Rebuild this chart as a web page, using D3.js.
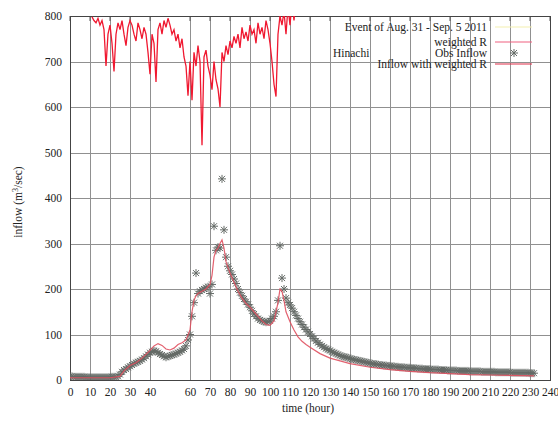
<!DOCTYPE html>
<html>
<head>
<meta charset="utf-8">
<script src="https://d3js.org/d3.v7.min.js"></script>
<style>
  body { margin: 0; background: #fff; }
  svg { display: block; }
  text { font-family: "Liberation Serif", "DejaVu Serif", serif; fill: #222; }
</style>
</head>
<body>
<svg id="chart" width="558" height="421"></svg>
<script>
// x ticks (50 is not labelled in the original)
var xTicks = [0,10,20,30,40,60,70,80,90,100,110,120,130,140,150,160,170,180,190,200,210,220,230,240];
var yTicks = [0,100,200,300,400,500,600,700,800];

// observed inflow, one value per hour from hour 0
var obsStart = 0;
var obsValues = [
  8,8,7,7,7,7,7,7,6,6, 6,6,6,6,6,6,6,6,6,6, 6,7,7,7,8,
  12,18,22,24,28,
  30,33,36,38,40,42,45,48,52,56,
  60,62,64,63,60,57,55,52,50,52,
  53,55,56,58,60,62,65,68,75,88,
  100,140,170,235,190,195,198,200,203,205,
  190,210,338,285,292,290,442,330,270,250,
  240,232,222,212,200,192,185,178,172,166,
  160,152,145,140,135,132,130,128,127,128,
  130,135,140,150,175,295,224,200,180,170,
  165,158,150,142,135,128,122,116,111,106,
  101,96,91,86,82,78,75,72,69,67,
  65,62,60,58,56,54,52,51,50,49,
  47,46,45,44,43,42,41,40,39,38,
  37,36,35,35,34,33,33,32,32,31,
  31,30,30,29,29,28,28,28,27,27,
  27,26,26,26,25,25,25,24,24,24,
  24,23,23,23,23,22,22,22,22,21,
  21,21,21,21,20,20,20,20,20,20,
  19,19,19,19,19,19,18,18,18,18,
  18,18,18,17,17,17,17,17,17,17,
  17,16,16,16,16,16,16,16,16,16,15,15,15
];

// simulated inflow with weighted R
var simHours = [0,5,10,15,20,25,27,30,33,36,40,42,44,46,48,50,52,54,56,58,60,61,62,63,64,66,68,70,71,72,73,74,75,76,77,78,80,82,84,86,88,90,92,94,96,98,100,102,104,105,106,107,108,110,112,114,116,118,120,125,130,135,140,150,160,170,180,190,200,210,220,232];
var simValues = [5,5,5,5,5,8,20,32,38,48,65,75,80,76,68,66,70,78,82,88,110,150,175,185,190,195,200,210,230,270,285,290,300,308,290,260,235,215,195,180,168,160,150,140,130,122,120,130,170,200,195,175,150,128,110,95,85,78,72,58,48,42,36,28,23,19,16,14,12,11,10,9];

// weighted R (rainfall, drawn from the top), one value per hour from hour 11
var rainStart = 11;
var rainValues = [
  798,790,785,795,780,790,770,690,760,780,
  740,678,760,785,770,790,760,735,775,790,
  780,760,745,785,770,750,775,760,720,672,
  760,740,655,770,785,760,790,775,795,780,
  760,770,745,760,730,750,710,690,625,700,
  615,720,690,735,700,516,710,725,690,670,
  638,700,660,640,600,720,700,735,715,745,
  730,755,740,760,730,775,750,765,745,780,
  760,770,740,785,760,775,750,790,770,740,
  700,650,623,760,800,780,810,760,820,780,
  830,790,840
];

var legendTitle = "Event of Aug. 31 - Sep. 5 2011";
var stationName = "Hinachi";

(function() {
var svg = d3.select("#chart");
var mLeft = 70, mRight = 550, mTop = 16, mBottom = 380;

var x = d3.scaleLinear().domain([0, 240]).range([mLeft, mRight]);
var y = d3.scaleLinear().domain([0, 800]).range([mBottom, mTop]);

svg.append("defs").append("clipPath").attr("id", "plotclip")
  .append("rect").attr("x", mLeft).attr("y", mTop)
  .attr("width", mRight - mLeft).attr("height", mBottom - mTop);

// grid
var grid = svg.append("g").attr("stroke", "#909090").attr("stroke-width", 1);
grid.selectAll(".gx").data(xTicks.filter(function(d) { return d > 0 && d < 240; }))
  .enter().append("line")
  .attr("x1", function(d) { return Math.round(x(d)) + 0.5; })
  .attr("x2", function(d) { return Math.round(x(d)) + 0.5; })
  .attr("y1", mTop).attr("y2", mBottom);
grid.selectAll(".gy").data(yTicks.filter(function(d) { return d > 0 && d < 800; }))
  .enter().append("line")
  .attr("y1", function(d) { return Math.round(y(d)) + 0.5; })
  .attr("y2", function(d) { return Math.round(y(d)) + 0.5; })
  .attr("x1", mLeft).attr("x2", mRight);

// axes
var xAxis = d3.axisBottom(x).tickValues(xTicks).tickSize(0).tickPadding(8).tickFormat(d3.format("d"));
var yAxis = d3.axisLeft(y).tickValues(yTicks).tickSize(0).tickPadding(8).tickFormat(d3.format("d"));
var gx = svg.append("g").attr("transform", "translate(0," + mBottom + ")").call(xAxis);
var gy = svg.append("g").attr("transform", "translate(" + mLeft + ",0)").call(yAxis);
gx.select(".domain").remove();
gy.select(".domain").remove();
gx.selectAll("text").style("font-size", "11.5px").style("font-family", "Liberation Serif").attr("fill", "#222");
gy.selectAll("text").style("font-size", "11.5px").style("font-family", "Liberation Serif").attr("fill", "#222");

// mirror ticks on top border
svg.append("g").selectAll("line").data(xTicks).enter().append("line")
  .attr("x1", function(d) { return x(d); }).attr("x2", function(d) { return x(d); })
  .attr("y1", mTop).attr("y2", mTop + 5).attr("stroke", "#555");

svg.append("rect").attr("x", mLeft + 0.5).attr("y", mTop + 0.5)
  .attr("width", mRight - mLeft).attr("height", mBottom - mTop)
  .attr("fill", "none").attr("stroke", "#444").attr("stroke-width", 1);

var plot = svg.append("g").attr("clip-path", "url(#plotclip)");

// observed inflow stars
var star = "M-4,0H4M0,-4V4M-3,-3L3,3M-3,3L3,-3";
plot.append("g").attr("stroke", "#646a66").attr("stroke-width", 1).attr("fill", "none")
  .selectAll("path").data(obsValues).enter().append("path")
  .attr("transform", function(d, i) { return "translate(" + x(obsStart + i) + "," + y(d) + ")"; })
  .attr("d", star);

// simulated inflow
var simLine = d3.line().x(function(d) { return x(d[0]); }).y(function(d) { return y(d[1]); });
plot.append("path").datum(d3.zip(simHours, simValues))
  .attr("d", simLine).attr("fill", "none").attr("stroke", "#e0505f").attr("stroke-width", 1.2)
  .attr("opacity", 0.9);

// weighted R
var rainLine = d3.line().x(function(d, i) { return x(rainStart + i); }).y(function(d) { return y(d); });
plot.append("path").datum(rainValues)
  .attr("d", rainLine).attr("fill", "none").attr("stroke", "#f01830").attr("stroke-width", 1.3);

// labels
svg.append("text").attr("x", 308).attr("y", 412).attr("text-anchor", "middle")
  .style("font-size", "11.5px").text("time (hour)");
var yl = svg.append("text").attr("transform", "translate(22,202) rotate(-90)")
  .attr("text-anchor", "middle").style("font-size", "11.5px");
yl.append("tspan").text("inflow (m");
yl.append("tspan").attr("dy", -4).style("font-size", "8px").text("3");
yl.append("tspan").attr("dy", 4).text("/sec)");

// legend
var lx = 487, ls = 495, le = 532;
var legendRows = [
  { label: legendTitle, y: 27, kind: "title" },
  { label: "weighted R", y: 42, kind: "rain" },
  { label: "Obs Inflow", y: 53, kind: "obs" },
  { label: "Inflow with weighted R", y: 64, kind: "sim" }
];
var lg = svg.append("g");
lg.selectAll("text").data(legendRows).enter().append("text")
  .attr("x", lx).attr("y", function(d) { return d.y + 4; })
  .attr("text-anchor", "end").style("font-size", "11.5px")
  .text(function(d) { return d.label; });
legendRows.forEach(function(d) {
  if (d.kind === "obs") {
    lg.append("path").attr("d", star).attr("transform", "translate(" + 514 + "," + d.y + ")")
      .attr("stroke", "#646a66").attr("fill", "none");
  } else {
    lg.append("line").attr("x1", ls).attr("x2", le).attr("y1", d.y).attr("y2", d.y)
      .attr("stroke", d.kind === "title" ? "#f4f0b0" : (d.kind === "rain" ? "#f06080" : "#e0304a"))
      .attr("stroke-width", 1.2);
  }
});
svg.append("text").attr("x", 333).attr("y", 57).style("font-size", "11.5px").text(stationName);
})();
</script>
</body>
</html>
